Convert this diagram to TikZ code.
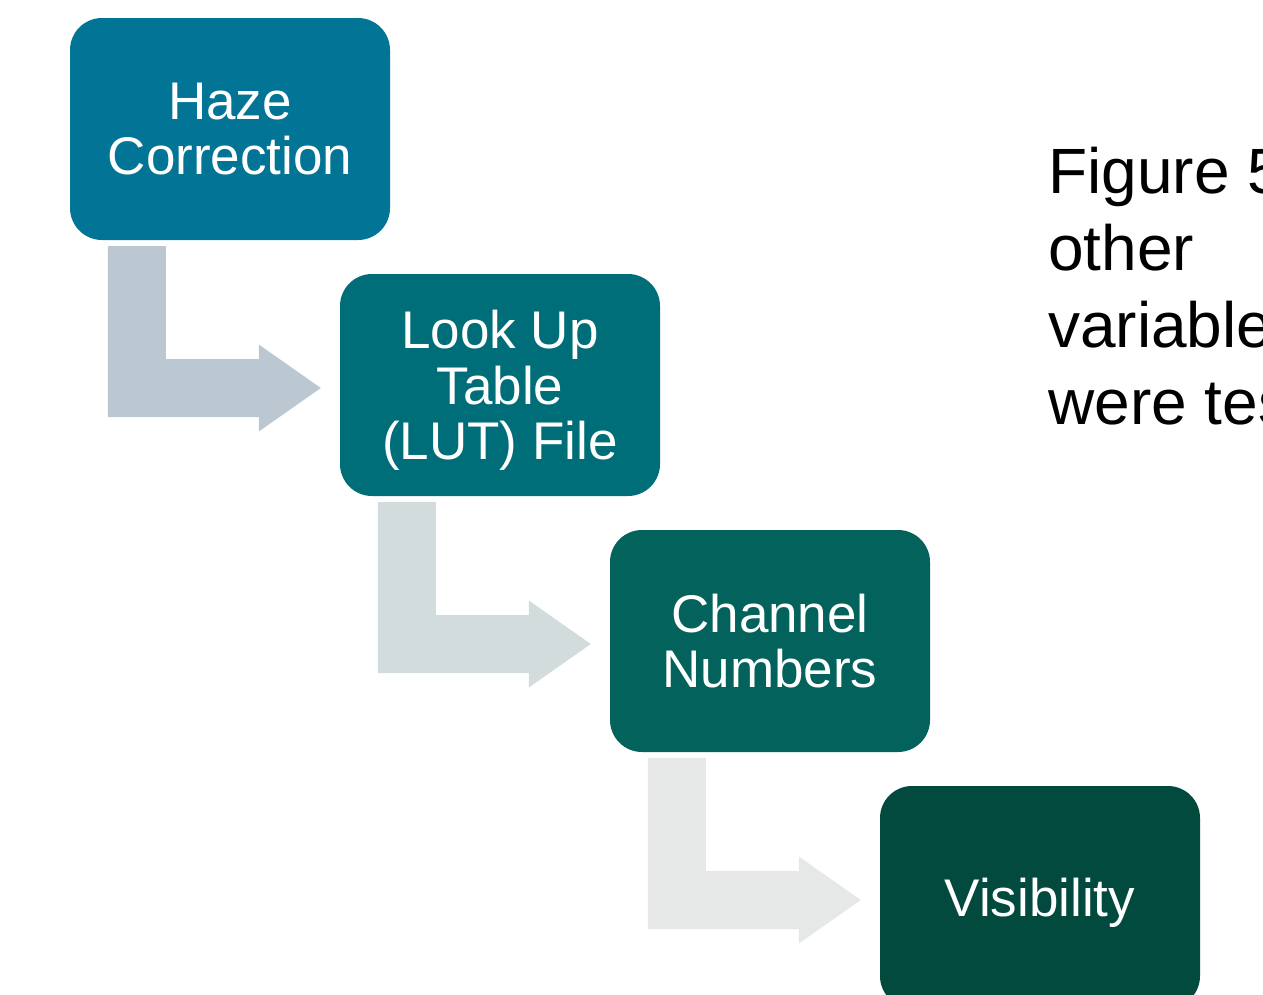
\documentclass[tikz,border=0pt]{standalone}
\usepackage{fontspec}
\setmainfont{Liberation Sans}
\usetikzlibrary{calc}

\definecolor{stepA}{HTML}{027496}
\definecolor{stepB}{HTML}{006E78}
\definecolor{stepC}{HTML}{03625B}
\definecolor{stepD}{HTML}{024A3E}
\definecolor{bendA}{HTML}{BCC8D1}
\definecolor{bendB}{HTML}{D3DCDD}
\definecolor{bendC}{HTML}{E6E8E8}

% Bent (down-then-right) block arrow from the bottom of #1 to the left side of #2
\newcommand\bentarrow[3]{%
  \coordinate (bendcorner) at (#1.south west |- #2.west);
  \fill[#3]
    ($(#1.south west)+(38,6)$) --
    ($(#1.south west)+(96,6)$) --
    ($(bendcorner)+(96,-26)$) --
    ($(#2.west)+(-81,-26)$) --
    ($(#2.west)+(-81,-40.5)$) --
    ($(#2.west)+(-19,3)$) --
    ($(#2.west)+(-81,46.5)$) --
    ($(#2.west)+(-81,32)$) --
    ($(bendcorner)+(38,32)$) -- cycle;
}

\tikzset{
  stepbox/.style={rectangle, rounded corners=32pt, minimum width=320pt,
    minimum height=222pt, inner sep=0pt, text=white, align=center,
    text depth=0pt, font=\fontsize{53}{55.5}\selectfont},
  sidetext/.style={anchor=north west, inner sep=0pt, align=left,
    font=\fontsize{64}{77}\selectfont, text=black}
}

\begin{document}
\begin{tikzpicture}[x=1pt, y=-1pt]
  \useasboundingbox (0,0) rectangle (1263,994);
  \clip (0,0) rectangle (1263,994);

  \node[stepbox, fill=stepA] (haze) at (230,129) {Haze\\Correction};
  \node[stepbox, fill=stepB] (lut)  at (500,385) {Look Up\\Table\\(LUT) File};
  \node[stepbox, fill=stepC] (chan) at (770,641) {Channel\\Numbers};
  \node[stepbox, fill=stepD] (vis)  at (1040,897) {Visibility};

  \bentarrow{haze}{lut}{bendA}
  \bentarrow{lut}{chan}{bendB}
  \bentarrow{chan}{vis}{bendC}

  \node[sidetext] (caption) at (1048,147) {Figure 5\\other\\variable\\were tes};
\end{tikzpicture}
\end{document}
